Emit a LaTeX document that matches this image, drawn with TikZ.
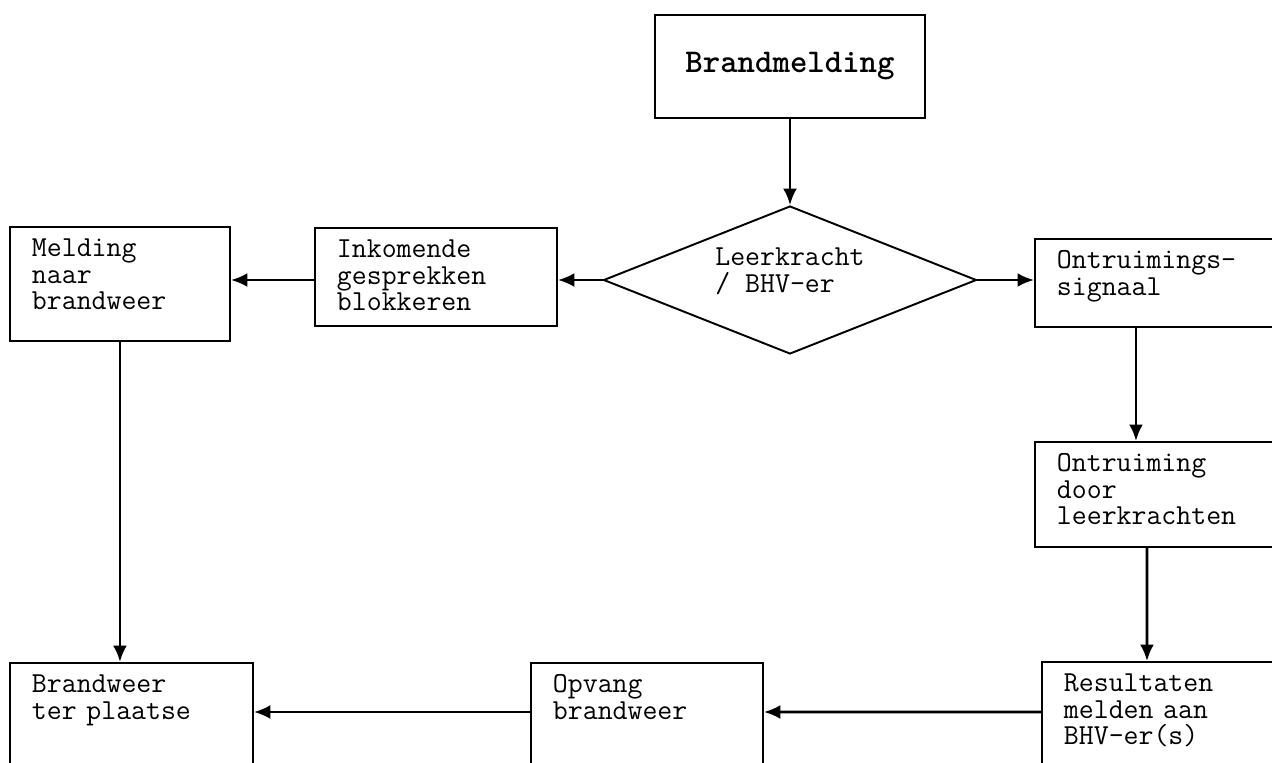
\documentclass[tikz,border=0pt]{standalone}
\usepackage{fontspec}
\usetikzlibrary{shapes.geometric,arrows.meta}

\lineskiplimit=-5pt
\newcommand\vlakfont{\ttfamily\fontsize{16.5pt}{15pt}\selectfont}

\begin{document}
\begin{tikzpicture}[x=0.02cm,y=-0.02cm,
box/.style={draw,line width=1.1pt,anchor=north west,align=left,
  inner xsep=0.44cm,inner ysep=0pt,text height=0.6cm,font=\vlakfont},
pijl/.style={line width=1.6pt,-{Latex[length=0.33cm,width=0.28cm]}}]
 \useasboundingbox (0,0) rectangle (1272,762);
 \clip (0,0) rectangle (1272,762);

 \node[draw,line width=1.1pt,minimum width=5.4cm,minimum height=2.06cm,
   font=\ttfamily\bfseries\fontsize{18.9pt}{20pt}\selectfont] (brand) at (790,66.5) {Brandmelding};
 \node[diamond,draw,line width=1.1pt,shape aspect=2.52,minimum width=7.46cm,minimum height=2.96cm,
   inner sep=0pt,align=left,text height=0.9cm,text depth=0.42cm,font=\vlakfont] (dia) at (790,280) {Leerkracht\\/ BHV-er};

 \node[box,text width=3.52cm,text depth=1.68cm] (meld) at (9,226) {Melding\\naar\\brandweer};
 \node[box,text width=3.96cm,text depth=1.36cm] (inko) at (314,227) {Inkomende\\gesprekken\\blokkeren};
 \node[box,text width=4.32cm,text depth=1.16cm] (ontr) at (1034,238) {Ontruimings-\\signaal};
 \node[box,text width=4.32cm,text depth=1.5cm] (door) at (1034,441) {Ontruiming\\door\\leerkrachten};
 \node[box,text width=4.32cm,text depth=2.4cm] (resu) at (1041,661) {Resultaten\\melden aan\\BHV-er(s)};
 \node[box,text width=3.76cm,text depth=2.4cm] (opva) at (530,662) {Opvang\\brandweer};
 \node[box,text width=3.98cm,text depth=2.4cm] (bran) at (9,662) {Brandweer\\ter plaatse};

 \draw[pijl] (brand) -- (dia);
 \draw[pijl] (dia.west) -- (dia.west -| inko.east);
 \draw[pijl] (dia.west -| inko.west) -- (dia.west -| meld.east);
 \draw[pijl] (dia.east) -- (dia.east -| ontr.west);
 \draw[pijl] ([xshift=2.04cm]ontr.south west) -- ([xshift=2.04cm]door.north west);
 \draw[pijl] ([xshift=2.26cm]door.south west) -- ([xshift=2.12cm]resu.north west);
 \draw[pijl] ([yshift=-1.02cm]resu.north west) -- ([yshift=-1cm]opva.north east);
 \draw[pijl] ([yshift=-1cm]opva.north west) -- ([yshift=-1cm]bran.north east);
 \draw[pijl] (meld) -- (meld.south |- bran.north);
\end{tikzpicture}
\end{document}
